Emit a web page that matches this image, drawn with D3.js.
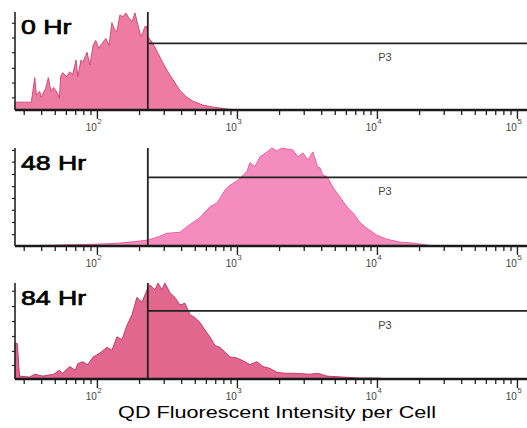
<!DOCTYPE html>
<html><head><meta charset="utf-8">
<script src="https://cdn.jsdelivr.net/npm/d3@7"></script>
<style>body{margin:0;background:#fff} svg{display:block}</style>
</head><body><svg id="c" width="527" height="428"></svg>
<script>
// ---- data ----
const panelLabels = ["0 Hr", "48 Hr", "84 Hr"];

// 0 Hr histogram: intensity (bin position) and relative count (% of axis height)
const intensity0 = [26,27,34,36,37,39,40,43,45,47,49,52,54,55,57,61,64,67,71,73,77,79,85,89,94,98,103,110,116,122,128,134,139,146,153,161,169,178,187,196,206,213,220,228,231,251,273,296,321,349,392,439,485,571,674,849,1050];
const counts0    = [8,8,8,33,15,19,13,22,33,19,23,18,12,34,38,34,39,36,51,34,51,48,59,46,66,71,63,69,73,66,89,82,80,97,95,99,94,90,99,87,75,79,85,85,75,68,58,48,39,31,20,13,9,5,3,1,0];

// 48 Hr histogram
const intensity1 = [26,105,146,172,231,282,316,392,462,544,641,720,821,891,1016,1178,1238,1345,1460,1638,1778,1931,2096,2276,2512,2729,2959,3214,3490,3790,3917,4113,4395,4850,5441,6105,6741,7563,8486,10000,11780,14590,18080,22760,25960];
const counts1    = [0,2,3,4,6,10,13,14,22,29,40,44,57,62,67,76,85,81,91,96,100,97,100,99,98,91,95,88,96,80,80,72,71,60,50,40,34,24,18,11,7,4,3,1,0];

// 84 Hr histogram
const intensity2 = [26,27,28,33,36,41,49,54,57,64,70,73,79,86,94,105,118,128,139,151,164,178,193,210,228,239,260,273,291,306,332,361,392,425,462,501,544,591,641,696,756,821,891,1000,1140,1238,1390,1534,1722,1931,2203,2512,3320,3790,4395,5717,7563,10000,12380];
const counts2    = [37,37,3,2,5,3,5,9,6,13,9,16,18,15,23,27,33,30,44,41,56,67,85,80,93,98,93,100,93,100,90,85,77,79,67,64,59,51,44,35,33,28,23,22,18,15,18,13,11,7,6,6,5,6,3,2,1,1,0];

const yTickValues = [
  [13, 28, 43, 59, 74, 89],
  [12, 24.5, 37, 49, 61, 73.5, 86, 98],
  [14.6, 29.2, 44.8, 60.4, 76, 92]
];
const gateIntensity = 231;
const gateLevels = [68, 70, 71];
const gateName = "P3";
const gateLabelIntensity = 11400;
const majorTicks = [100, 1000, 10000, 100000];
const majorExponents = ["2", "3", "4", "5"];
const xDomain = [26, 118000];
const xTitle = "QD Fluorescent Intensity per Cell";

// ---- styles / layout ----
const FONT = "Liberation Sans, Arial, sans-serif";
const STRETCH = 1.27; // reference image is horizontally stretched
const panels = [
  {top: 12, base: 110, fill: "#ee7ba2", stroke: "#cf3f6d"},
  {top: 148, base: 246, fill: "#f48dbd", stroke: "#e45a96"},
  {top: 283, base: 379, fill: "#e2678f", stroke: "#b8325e"}
];
const seriesX = [intensity0, intensity1, intensity2];
const seriesY = [counts0, counts1, counts2];

const svg = d3.select("#c");
const x = d3.scaleLog().domain(xDomain).range([15, 527]);
const minorTicks = x.ticks().filter(v => majorTicks.indexOf(v) < 0 && v >= xDomain[0]);

panels.forEach((p, i) => {
  const y = d3.scaleLinear().domain([0, 100]).range([p.base, p.top]);
  const pts = seriesX[i].map((v, k) => [v, seriesY[i][k]]);
  const g = svg.append("g");

  const area = d3.area().x(d => x(d[0])).y0(p.base).y1(d => y(d[1]));
  g.append("path").datum(pts).attr("d", area)
    .attr("fill", p.fill).attr("stroke", p.stroke).attr("stroke-width", 0.9)
    .attr("stroke-linejoin", "round");

  // y axis
  const ya = g.append("g").attr("transform", "translate(15,0)")
    .call(d3.axisLeft(y).tickValues(yTickValues[i]).tickSize(3).tickFormat(""));
  ya.select(".domain").remove();
  ya.selectAll("line").attr("stroke", "#222").attr("stroke-width", 1.2);
  g.append("line").attr("x1", 15).attr("x2", 15).attr("y1", p.top).attr("y2", p.base)
    .attr("stroke", "#222").attr("stroke-width", 1.6);

  // x axis minor and major ticks
  const xm = g.append("g").attr("transform", `translate(0,${p.base})`)
    .call(d3.axisBottom(x).tickValues(minorTicks).tickSize(5).tickFormat(""));
  xm.select(".domain").remove();
  xm.selectAll("line").attr("stroke", "#222").attr("stroke-width", 1.3);
  const xM = g.append("g").attr("transform", `translate(0,${p.base})`)
    .call(d3.axisBottom(x).tickValues(majorTicks).tickSize(9).tickFormat(""));
  xM.select(".domain").remove();
  xM.selectAll("line").attr("stroke", "#222").attr("stroke-width", 1.4);
  g.append("line").attr("x1", 15).attr("x2", 527).attr("y1", p.base).attr("y2", p.base)
    .attr("stroke", "#1a1a1a").attr("stroke-width", 2.4);

  // tick labels 10^n
  majorTicks.forEach((t, k) => {
    const tx = x(t);
    g.append("text").attr("x", tx).attr("y", p.base + 21).attr("text-anchor", "end")
      .attr("font-family", FONT).attr("font-size", 10)
      .attr("fill", "#444").text("10");
    g.append("text").attr("x", tx + 0.5).attr("y", p.base + 14)
      .attr("font-family", FONT).attr("font-size", 7.5)
      .attr("fill", "#444").text(majorExponents[k]);
  });

  // gate
  const gx = x(gateIntensity), gy = y(gateLevels[i]);
  g.append("line").attr("x1", gx).attr("x2", gx).attr("y1", p.top).attr("y2", p.base)
    .attr("stroke", "#222").attr("stroke-width", 1.8);
  g.append("line").attr("x1", gx).attr("x2", 527).attr("y1", gy).attr("y2", gy)
    .attr("stroke", "#222").attr("stroke-width", 1.8);
  g.append("text").attr("x", x(gateLabelIntensity)).attr("y", gy + 18).attr("text-anchor", "middle")
    .attr("font-family", FONT).attr("font-size", 11)
    .attr("fill", "#444").text(gateName);

  // panel label
  g.append("text").attr("transform", `translate(21,${p.top + 22}) scale(${STRETCH},1)`)
    .attr("font-family", FONT).attr("font-size", 21)
    .attr("fill", "#000").attr("stroke", "#000").attr("stroke-width", 0.7)
    .text(panelLabels[i]);
});

svg.append("text").attr("transform", `translate(277,418) scale(${STRETCH},1)`)
  .attr("text-anchor", "middle")
  .attr("font-family", FONT).attr("font-size", 17)
  .attr("fill", "#000").text(xTitle);
</script></body></html>
